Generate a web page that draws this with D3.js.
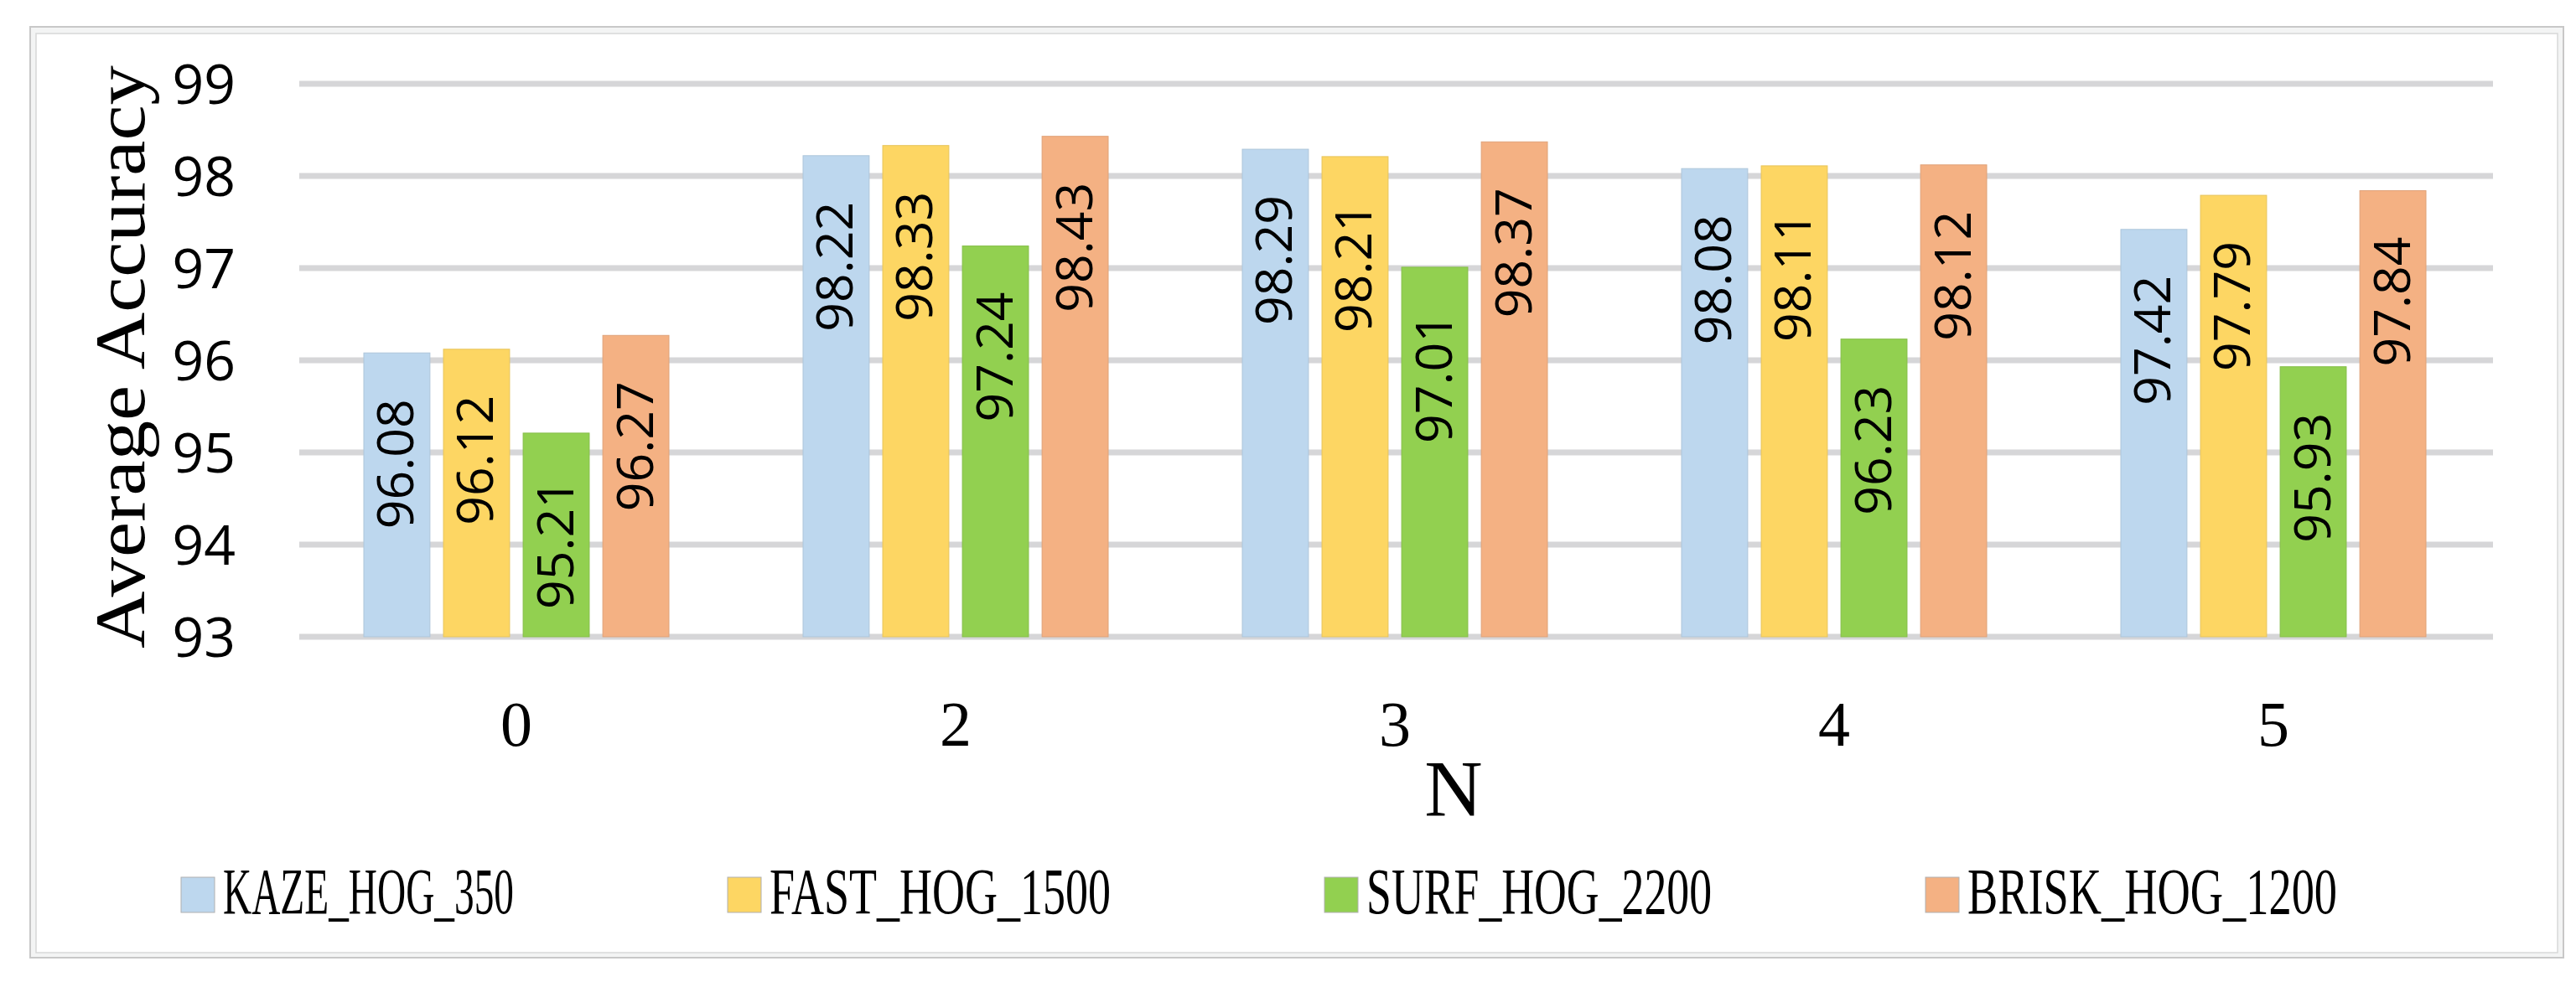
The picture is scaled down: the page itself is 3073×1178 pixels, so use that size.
<!DOCTYPE html>
<html><head><meta charset="utf-8">
<script src="https://cdn.jsdelivr.net/npm/d3@7"></script>
<style>body{margin:0;background:#fff}</style>
</head><body>
<svg id="chart" width="3073" height="1178"></svg>
<script>
const categories = ['0', '2', '3', '4', '5'];
const seriesNames = ['KAZE_HOG_350', 'FAST_HOG_1500', 'SURF_HOG_2200', 'BRISK_HOG_1200'];
const kaze = [96.08, 98.22, 98.29, 98.08, 97.42];
const fast = [96.12, 98.33, 98.21, 98.11, 97.79];
const surf = [95.21, 97.24, 97.01, 96.23, 95.93];
const brisk = [96.27, 98.43, 98.37, 98.12, 97.84];
const yTicks = [93, 94, 95, 96, 97, 98, 99];

const colors = ['#bdd7ee', '#fdd663', '#92d050', '#f4b183'];
const series = [kaze, fast, surf, brisk];
const legendWidths = [347, 407, 412, 441];

const svg = d3.select('#chart');

// frame
svg.append('rect').attr('x', 36).attr('y', 32).attr('width', 3022).attr('height', 1111)
  .attr('fill', '#f3f4f4').attr('stroke', '#c8c8c8').attr('stroke-width', 2);
svg.append('rect').attr('x', 43).attr('y', 40).attr('width', 3008).attr('height', 1097)
  .attr('fill', '#fff').attr('stroke', '#d8d8d8').attr('stroke-width', 1.5);

const x0 = d3.scaleBand().domain(categories).range([354, 2974]);
const x1 = d3.scaleBand().domain(seriesNames).range([80, 444]).paddingInner(0.17);
const y = d3.scaleLinear().domain([93, 99]).range([760, 100]);

// gridlines
svg.append('g').selectAll('line').data(yTicks).join('line')
  .attr('x1', 357).attr('x2', 2974)
  .attr('y1', d => y(d)).attr('y2', d => y(d))
  .attr('stroke', '#d6d6d8').attr('stroke-width', 7);

svg.append('g').selectAll('text').data(yTicks).join('text')
  .attr('x', 281).attr('y', d => y(d) + 24)
  .attr('text-anchor', 'end')
  .attr('font-family', 'Open Sans').attr('font-size', 66)
  .text(d => d);

// bars
const groups = svg.append('g').selectAll('g').data(categories).join('g')
  .attr('transform', d => `translate(${x0(d)},0)`);

groups.selectAll('rect').data((c, ci) => seriesNames.map((s, si) => ({ s, si, v: series[si][ci] })))
  .join('rect')
  .attr('x', d => x1(d.s)).attr('width', x1.bandwidth())
  .attr('y', d => y(d.v)).attr('height', d => y(93) - y(d.v))
  .attr('fill', d => colors[d.si])
  .attr('stroke', d => d3.color(colors[d.si]).darker(0.25)).attr('stroke-width', 1);

groups.selectAll('text').data((c, ci) => seriesNames.map((s, si) => ({ s, si, v: series[si][ci] })))
  .join('text')
  .attr('transform', d => `translate(${x1(d.s) + x1.bandwidth() / 2 + 20},${y(d.v) + 55}) rotate(-90)`)
  .attr('text-anchor', 'end')
  .attr('font-family', 'Open Sans').attr('font-size', 60)
  .attr('textLength', 155).attr('lengthAdjust', 'spacingAndGlyphs')
  .text(d => d.v.toFixed(2));

// x labels
svg.append('g').selectAll('text').data(categories).join('text')
  .attr('x', d => x0(d) + x0.bandwidth() / 2).attr('y', 890)
  .attr('text-anchor', 'middle')
  .attr('font-family', 'Liberation Serif').attr('font-size', 76)
  .text(d => d);

svg.append('text').attr('x', 1734).attr('y', 974).attr('text-anchor', 'middle')
  .attr('font-family', 'Liberation Serif').attr('font-size', 96).text('N');

svg.append('text').attr('transform', 'translate(172,426) rotate(-90)')
  .attr('text-anchor', 'middle')
  .attr('font-family', 'Liberation Serif').attr('font-size', 84)
  .attr('textLength', 696).attr('lengthAdjust', 'spacingAndGlyphs')
  .text('Average Accuracy');

// legend
let lx = 216;
seriesNames.forEach((s, i) => {
  svg.append('rect').attr('x', lx).attr('y', 1047).attr('width', 40).attr('height', 42)
    .attr('fill', colors[i]).attr('stroke', '#b0b0b0').attr('stroke-width', 1);
  svg.append('text').attr('x', lx + 50).attr('y', 1090)
    .attr('font-family', 'Liberation Serif').attr('font-size', 78)
    .attr('textLength', legendWidths[i]).attr('lengthAdjust', 'spacingAndGlyphs')
    .text(s);
  lx += 50 + legendWidths[i] + 255;
});
</script>
</body></html>
